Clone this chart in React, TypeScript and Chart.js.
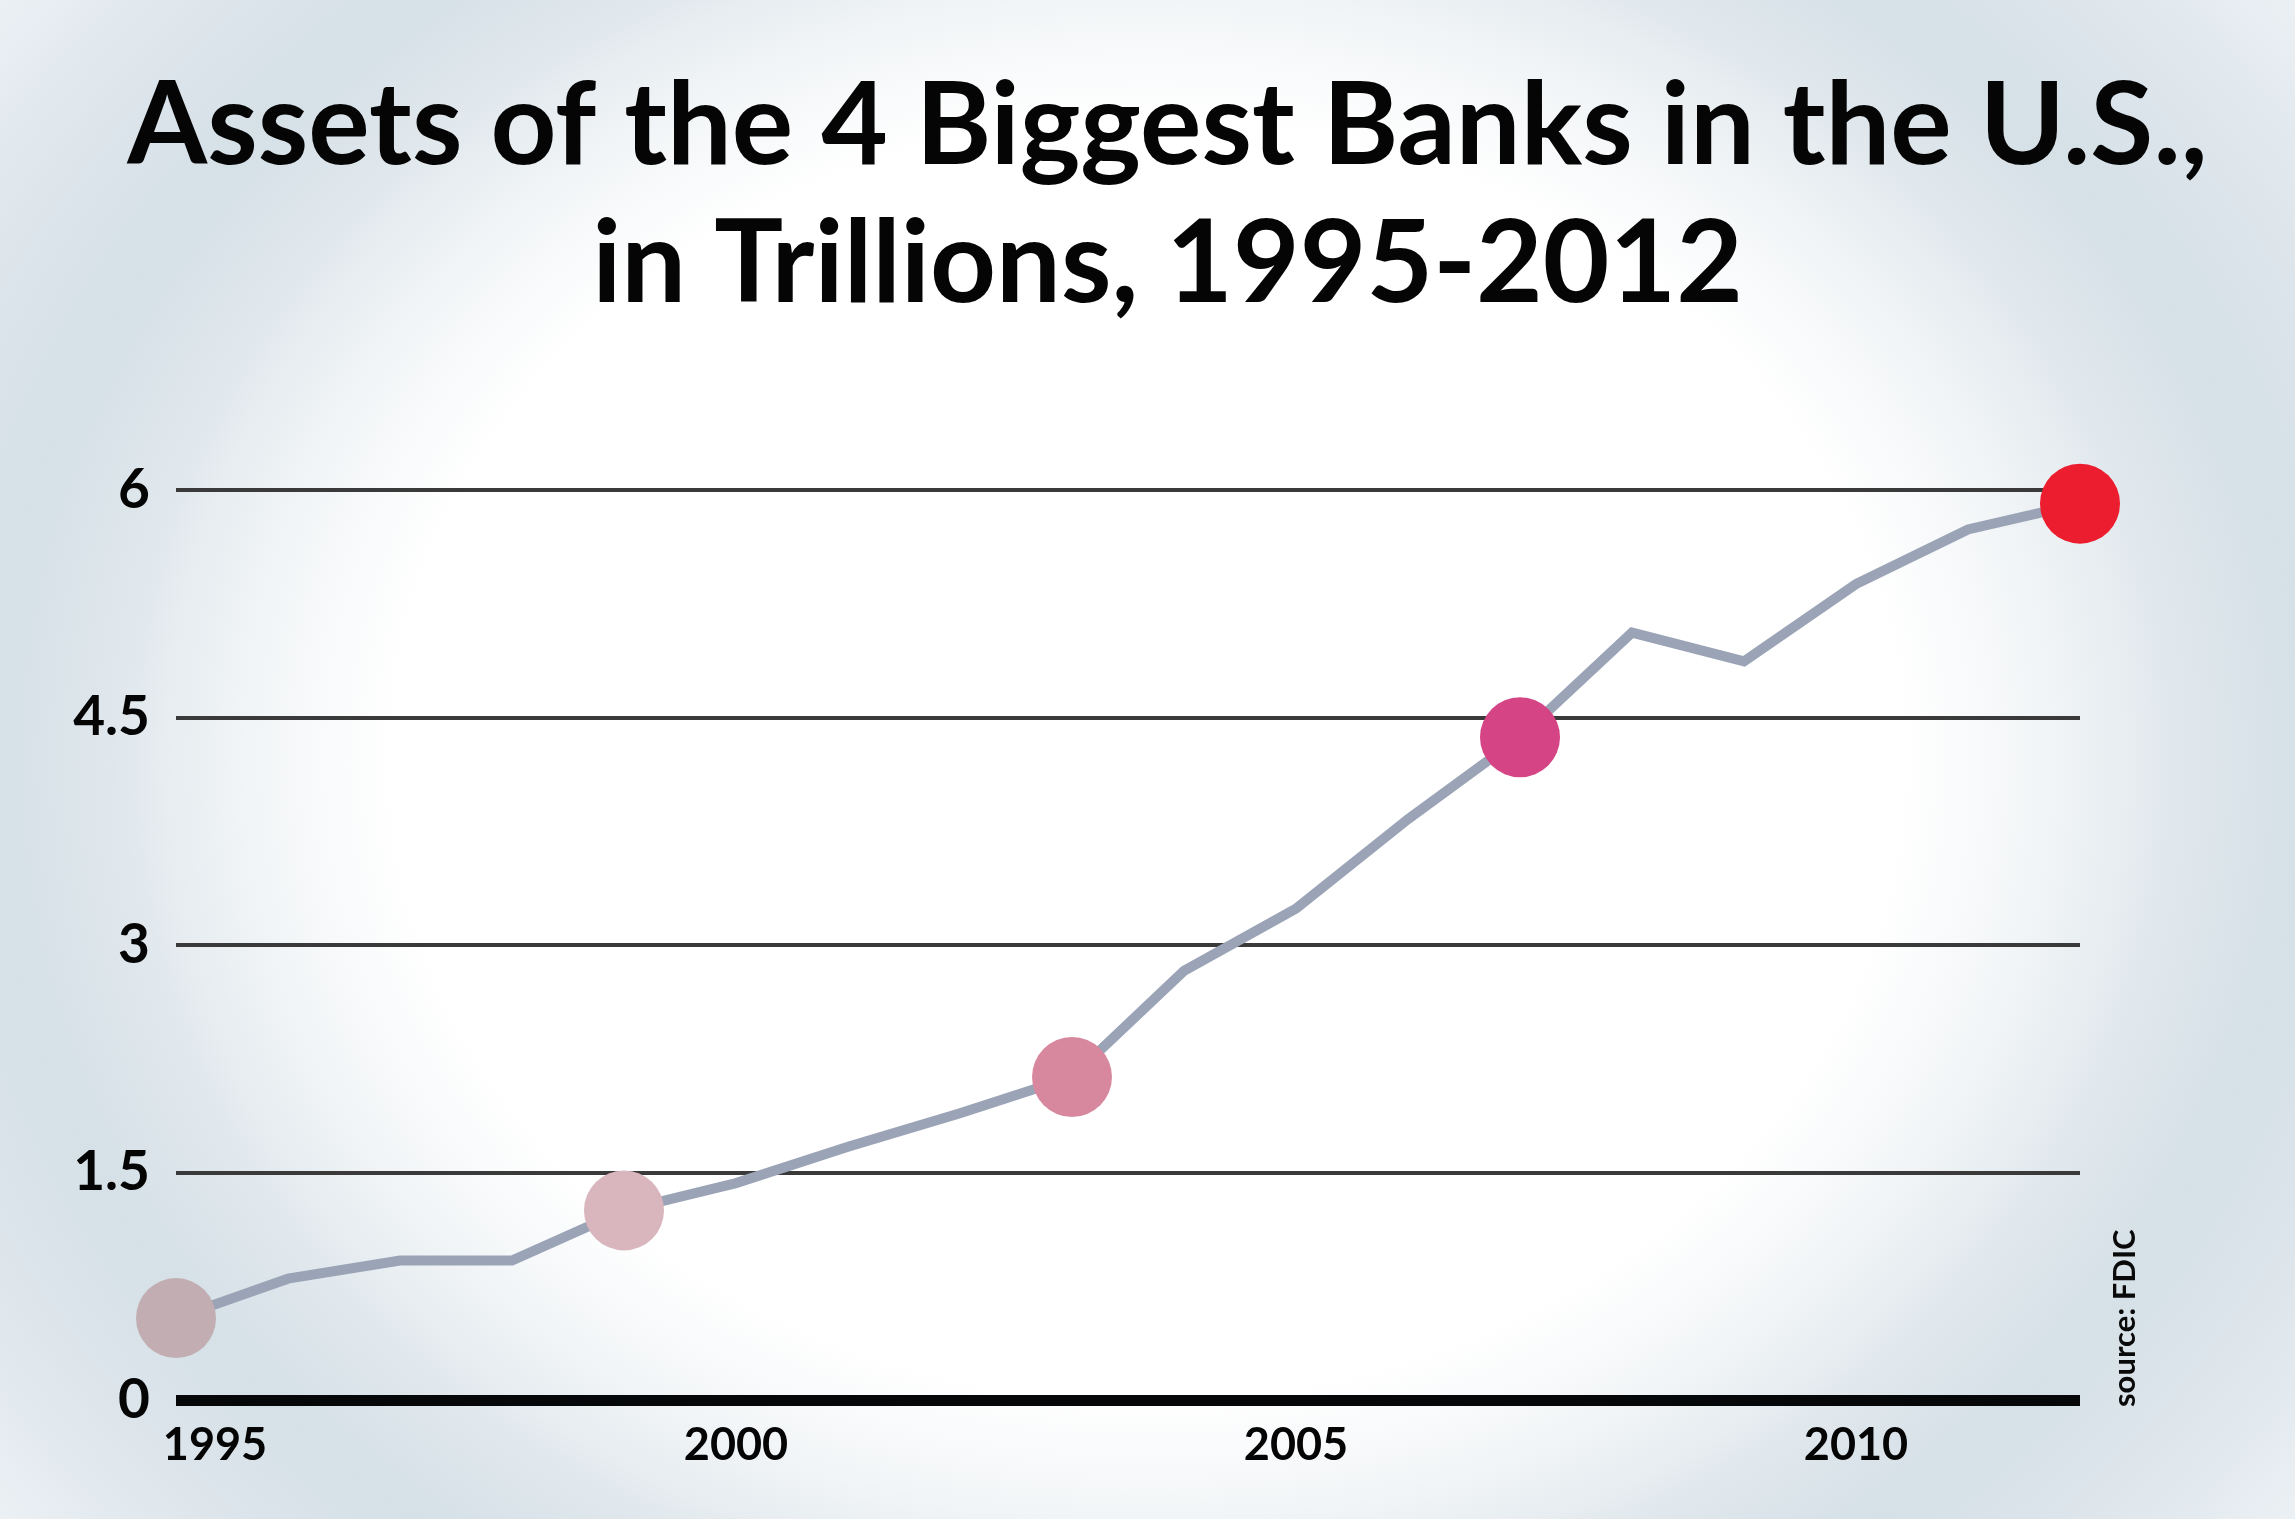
import { useEffect, useRef } from "react";
import { Chart, registerables } from "chart.js";

Chart.register(...registerables);

const YEARS = [1995, 1996, 1997, 1998, 1999, 2000, 2001, 2002, 2003, 2004, 2005, 2006, 2007, 2008, 2009, 2010, 2011, 2012];
const ASSETS = [0.54, 0.8, 0.92, 0.92, 1.25, 1.43, 1.67, 1.89, 2.13, 2.83, 3.24, 3.83, 4.37, 5.06, 4.87, 5.38, 5.74, 5.91];
const Y_TICKS = [0, 1.5, 3, 4.5, 6];
const X_TICKS = [1995, 2000, 2005, 2010];
const HIGHLIGHT_YEARS = [1995, 1999, 2003, 2007, 2012];
const HIGHLIGHT_COLORS = ["#c1adb2", "#d9b5be", "#d7889f", "#d54585", "#ec1d2f"];
const TITLE = ["Assets of the 4 Biggest Banks in the U.S.,", "in Trillions, 1995-2012"];
const SOURCE = "source: FDIC";

const FONT = "Lato, 'Open Sans', sans-serif";

// vertical source note at the right of the plot
const sourcePlugin = {
  id: "sourceNote",
  afterDraw(chart: Chart) {
    const { ctx, chartArea } = chart;
    ctx.save();
    ctx.translate(chartArea.right + 45, chartArea.bottom + 7);
    ctx.rotate(-Math.PI / 2);
    ctx.font = `bold 31px ${FONT}`;
    ctx.fillStyle = "#0a0a0a";
    ctx.textAlign = "left";
    ctx.textBaseline = "middle";
    ctx.fillText(SOURCE, 0, 0);
    ctx.restore();
  },
};

// the first year label sits a bit to the right, clear of the "0"
const nudgeFirstLabel = {
  id: "nudgeFirstLabel",
  beforeDraw(chart: Chart) {
    const scale: any = chart.scales.x;
    if (!scale || !scale.getLabelItems) return;
    const items = scale.getLabelItems(chart.chartArea);
    const first = items && items[0];
    if (first && first.options && first.options.translation && !first._nudged) {
      first.options.translation[0] += 39;
      first._nudged = true;
    }
  },
};

export default function App() {
  const canvasRef = useRef<HTMLCanvasElement>(null);
  const chartRef = useRef<Chart | null>(null);

  useEffect(() => {
    if (!canvasRef.current) return;
    chartRef.current?.destroy();
    const highlight = (i: number) => HIGHLIGHT_YEARS.indexOf(YEARS[i]);
    chartRef.current = new Chart(canvasRef.current, {
      type: "line",
      data: {
        datasets: [
          {
            data: YEARS.map((y, i) => ({ x: y, y: ASSETS[i] })),
            borderColor: "#9ba4b6",
            borderWidth: 10,
            tension: 0,
            pointRadius: (c: any) => (highlight(c.dataIndex) >= 0 ? 40 : 0),
            pointBackgroundColor: (c: any) => HIGHLIGHT_COLORS[highlight(c.dataIndex)] ?? "#9ba4b6",
            pointBorderWidth: 0,
            clip: false,
          },
        ],
      },
      options: {
        animation: false,
        responsive: false,
        devicePixelRatio: 1,
        layout: { padding: { left: 40, right: 0, top: 0, bottom: 0 } },
        plugins: {
          legend: { display: false },
          tooltip: { enabled: false },
          title: {
            display: true,
            text: TITLE,
            color: "#050505",
            font: { family: FONT, size: 115, weight: "bold", lineHeight: 1.2 },
            padding: { top: 58, bottom: 156 },
          },
        },
        scales: {
          x: {
            type: "linear",
            min: 1995,
            max: 2012,
            afterBuildTicks: (s: any) => {
              s.ticks = X_TICKS.map((v) => ({ value: v }));
            },
            afterFit: (s: any) => {
              s.height = 119;
            },
            grid: { display: false },
            border: { display: false },
            ticks: {
              padding: 10,
              color: "#050505",
              font: { family: FONT, size: 45, weight: "bold" },
              callback: (v: any) => String(v),
              maxRotation: 0,
            },
          },
          y: {
            min: 0,
            max: 6,
            afterBuildTicks: (s: any) => {
              s.ticks = Y_TICKS.map((v) => ({ value: v }));
            },
            afterFit: (s: any) => {
              s.width = 136;
            },
            border: { display: false },
            grid: {
              drawTicks: false,
              color: (c: any) => (c.tick && c.tick.value === 0 ? "#050709" : "#3a3a3a"),
              lineWidth: (c: any) => (c.tick && c.tick.value === 0 ? 11 : 4),
            },
            ticks: {
              padding: 26,
              color: "#050505",
              font: { family: FONT, size: 55, weight: "bold" },
              callback: (v: any) => String(v),
            },
          },
          // empty right-hand axis that only reserves room for the source note
          side: {
            position: "right",
            min: 0,
            max: 6,
            afterFit: (s: any) => {
              s.width = 215;
            },
            grid: { display: false },
            border: { display: false },
            ticks: { display: false },
          },
        },
      },
      plugins: [sourcePlugin, nudgeFirstLabel],
    });
    return () => chartRef.current?.destroy();
  }, []);

  return (
    <div
      style={{
        position: "fixed",
        left: 0,
        top: 0,
        width: 2295,
        height: 1519,
        background:
          "radial-gradient(ellipse 1300px 1100px at 50% 50%, #ffffff 0%, #ffffff 58%, #f2f5f7 69%, #dfe7ec 80%, #d5e0e7 89%, #dee6ec 100%, #eef3f6 115%)",
      }}
    >
      <canvas ref={canvasRef} width={2295} height={1519} />
    </div>
  );
}
